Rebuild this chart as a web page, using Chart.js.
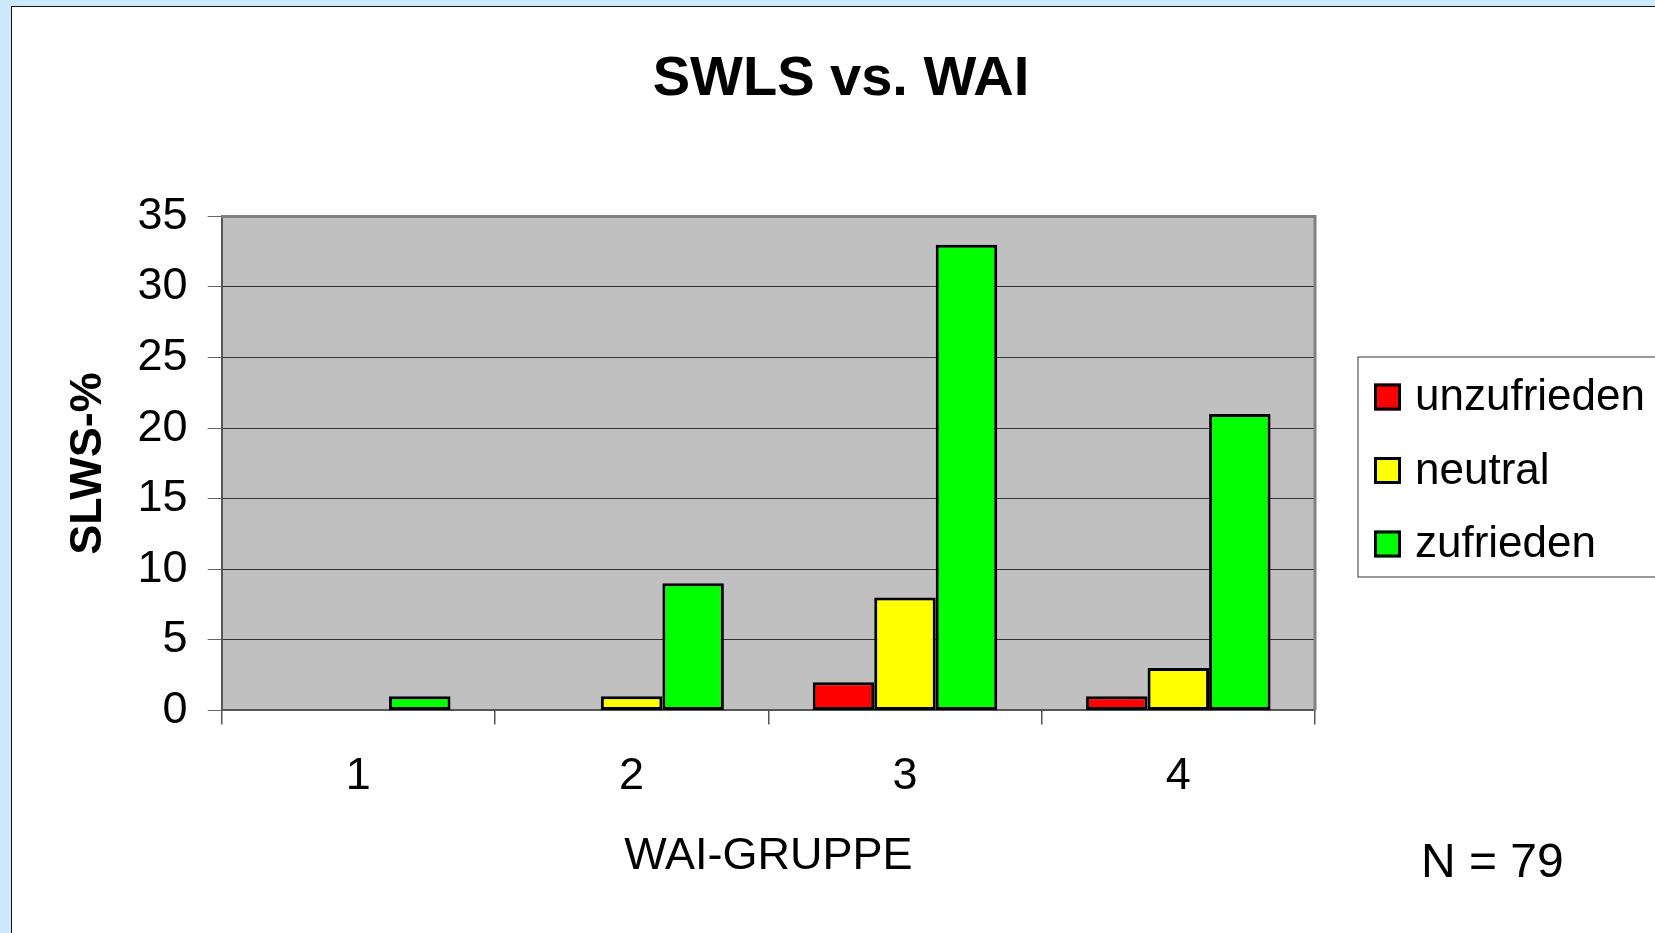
<!DOCTYPE html>
<html><head><meta charset="utf-8">
<script src="https://cdn.jsdelivr.net/npm/chart.js@4.4.0/dist/chart.umd.min.js"></script>
<style>
html,body{margin:0;padding:0;width:1655px;height:933px;overflow:hidden;background:#cce9fb;}
#panel{position:absolute;left:11px;top:6px;width:1700px;height:1000px;background:#fff;border-left:1px solid #111;border-top:1px solid #111;}
canvas{position:absolute;left:0;top:0;}
</style></head><body>
<div id="panel"><canvas id="c" width="1658" height="926"></canvas></div>
<script>
const categories = ['1', '2', '3', '4'];
const seriesNames = ['unzufrieden', 'neutral', 'zufrieden'];
const unzufrieden = [0, 0, 2, 1];
const neutral = [0, 1, 8, 3];
const zufrieden = [1, 9, 33, 21];
const seriesColors = ['#ff0000', '#ffff00', '#00ff00'];
const yMin = 0, yMax = 35, yStep = 5;
const titleText = 'SWLS vs. WAI';
const xTitle = 'WAI-GRUPPE';
const yTitle = 'SLWS-%';
const noteText = 'N = 79';

const FONT = "'Liberation Sans', Arial, sans-serif";

const plotBg = {
  id: 'plotBg',
  beforeDraw(chart) {
    const {ctx, chartArea: a} = chart;
    ctx.save();
    ctx.fillStyle = '#c0c0c0';
    ctx.fillRect(a.left, a.top, a.right - a.left, a.bottom - a.top);
    ctx.restore();
  },
  beforeDatasetsDraw(chart) {
    const {ctx, chartArea: a} = chart;
    ctx.save();
    ctx.strokeStyle = '#808080';
    ctx.lineWidth = 3;
    ctx.beginPath();
    ctx.moveTo(a.left, a.top);
    ctx.lineTo(a.right, a.top);
    ctx.lineTo(a.right, a.bottom);
    ctx.stroke();
    ctx.restore();
  }
};

const legendAndNote = {
  id: 'legendAndNote',
  afterDraw(chart) {
    const ctx = chart.ctx;
    ctx.save();
    ctx.strokeStyle = '#555';
    ctx.lineWidth = 1.2;
    ctx.strokeRect(1346, 350, 340, 220);
    ctx.font = '44px ' + FONT;
    ctx.textBaseline = 'middle';
    ctx.textAlign = 'left';
    chart.data.datasets.forEach((ds, i) => {
      const cy = 390 + i * 73.5;
      ctx.fillStyle = ds.backgroundColor;
      ctx.fillRect(1362, cy - 13.5, 27, 27);
      ctx.strokeStyle = '#000';
      ctx.lineWidth = 3;
      ctx.strokeRect(1363.5, cy - 12, 24, 24);
      ctx.fillStyle = '#000';
      ctx.fillText(ds.label, 1403, cy + 1);
    });
    ctx.font = '48px ' + FONT;
    ctx.textBaseline = 'alphabetic';
    ctx.fillText(noteText, 1409, 870);
    ctx.restore();
  }
};

const seriesData = [unzufrieden, neutral, zufrieden];

new Chart(document.getElementById('c'), {
  type: 'bar',
  data: {
    labels: categories,
    datasets: seriesNames.map((n, i) => ({
      label: n,
      data: seriesData[i],
      backgroundColor: seriesColors[i],
      borderColor: '#000',
      borderWidth: 3,
      borderSkipped: false,
      barPercentage: 1,
      categoryPercentage: 0.675
    }))
  },
  options: {
    responsive: false,
    animation: false,
    devicePixelRatio: 1,
    layout: {padding: 0},
    plugins: {
      legend: {display: false},
      tooltip: {enabled: false},
      title: {
        display: true,
        text: titleText,
        color: '#000',
        font: {family: FONT, size: 56, weight: 'bold', lineHeight: 1.2},
        padding: {top: 39, bottom: 103.2}
      }
    },
    scales: {
      x: {
        offset: true,
        grid: {display: true, offset: true, drawOnChartArea: false, drawTicks: true, tickLength: 14, color: '#555', lineWidth: 1.5},
        border: {display: true, color: '#555', width: 2},
        ticks: {color: '#000', font: {family: FONT, size: 45, lineHeight: 1.2}, padding: 25, maxRotation: 0},
        title: {display: true, text: xTitle, color: '#000', font: {family: FONT, size: 45, lineHeight: 1.2}, padding: {top: 0, bottom: 49}},
        afterFit(s) { s.height = 222.6; }
      },
      y: {
        min: yMin, max: yMax,
        grid: {color: '#333', lineWidth: 1, drawTicks: true, tickLength: 14, tickColor: '#666'},
        border: {display: true, color: '#555', width: 2},
        ticks: {stepSize: yStep, color: '#000', font: {family: FONT, size: 45, lineHeight: 1.2}, padding: 20},
        title: {display: true, text: yTitle, color: '#000', font: {family: FONT, size: 45, weight: 'bold', lineHeight: 1.2}, padding: {top: 50, bottom: 0}},
        afterFit(s) { s.width = 209.6; }
      },
      y2: {
        position: 'right',
        display: true,
        grid: {display: false},
        border: {display: false},
        ticks: {display: false},
        afterFit(s) { s.width = 355; }
      }
    }
  },
  plugins: [plotBg, legendAndNote]
});
</script>
</body></html>
